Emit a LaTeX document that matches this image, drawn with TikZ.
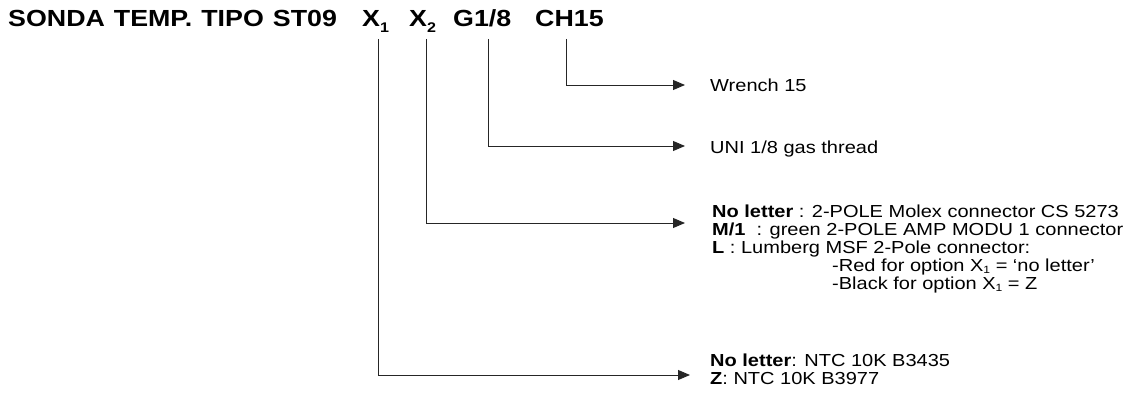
\documentclass[tikz,border=0pt]{standalone}
\usepackage{fontspec}
\setmainfont[FakeStretch=1.15]{Liberation Sans}
\usetikzlibrary{arrows.meta}
\newcommand\tsub[1]{\raisebox{-6pt}{\fontsize{14}{14}\selectfont #1}}
\newcommand\bsub[1]{\raisebox{-2.5pt}{\fontsize{10.5}{10.5}\selectfont #1}}
\begin{document}
\begin{tikzpicture}[x=1pt,y=-1pt,
  conn/.style={draw=black!85, line width=0.9pt, -{Triangle[length=12pt,width=10pt]}},
  ttl/.style={anchor=base west, inner sep=0pt, font=\fontsize{23.3}{28}\selectfont\bfseries},
  txt/.style={anchor=base west, inner sep=0pt, font=\fontsize{17.4}{20}\selectfont}]
\useasboundingbox (0,0) rectangle (1138,396);
% title
\node[ttl] (title) at (8,27) {\spaceskip=9pt SONDA TEMP. TIPO ST09};
\node[ttl] (x1) at (362,27) {X\tsub{1}};
\node[ttl] (x2) at (409,27) {X\tsub{2}};
\node[ttl] (g) at (453,27) {G1/8};
\node[ttl] (ch) at (535,27) {CH15};
% connector end points
\coordinate (x1a) at (378,39);
\coordinate (x1b) at (690,375);
\coordinate (x2a) at (426,39);
\coordinate (x2b) at (685,223);
\coordinate (ga) at (488,39);
\coordinate (gb) at (685,146);
\coordinate (cha) at (566,39);
\coordinate (chb) at (685,85);
\draw[conn] (cha) |- (chb);
\draw[conn] (ga) |- (gb);
\draw[conn] (x2a) |- (x2b);
\draw[conn] (x1a) |- (x1b);
% texts
\node[txt] (wrench) at (710,92) {Wrench 15};
\node[txt] (uni) at (710,153) {UNI 1/8 gas thread};
\node[txt] (n1) at (712,217) {\textbf{No letter} : 2-POLE Molex connector CS 5273};
\node[txt] (n2) at (712,235) {\textbf{M/1}\ \ : green 2-POLE AMP MODU 1 connector};
\node[txt] (n3) at (712,253) {\textbf{L} : Lumberg MSF 2-Pole connector:};
\node[txt] (n4) at (832,271) {-Red for option X\bsub{1} = ‘no letter’};
\node[txt] (n5) at (832,289) {-Black for option X\bsub{1} = Z};
\node[txt] (m1) at (710,366) {\textbf{No letter}: NTC 10K B3435};
\node[txt] (m2) at (710,384) {\textbf{Z}: NTC 10K B3977};
\end{tikzpicture}
\end{document}
